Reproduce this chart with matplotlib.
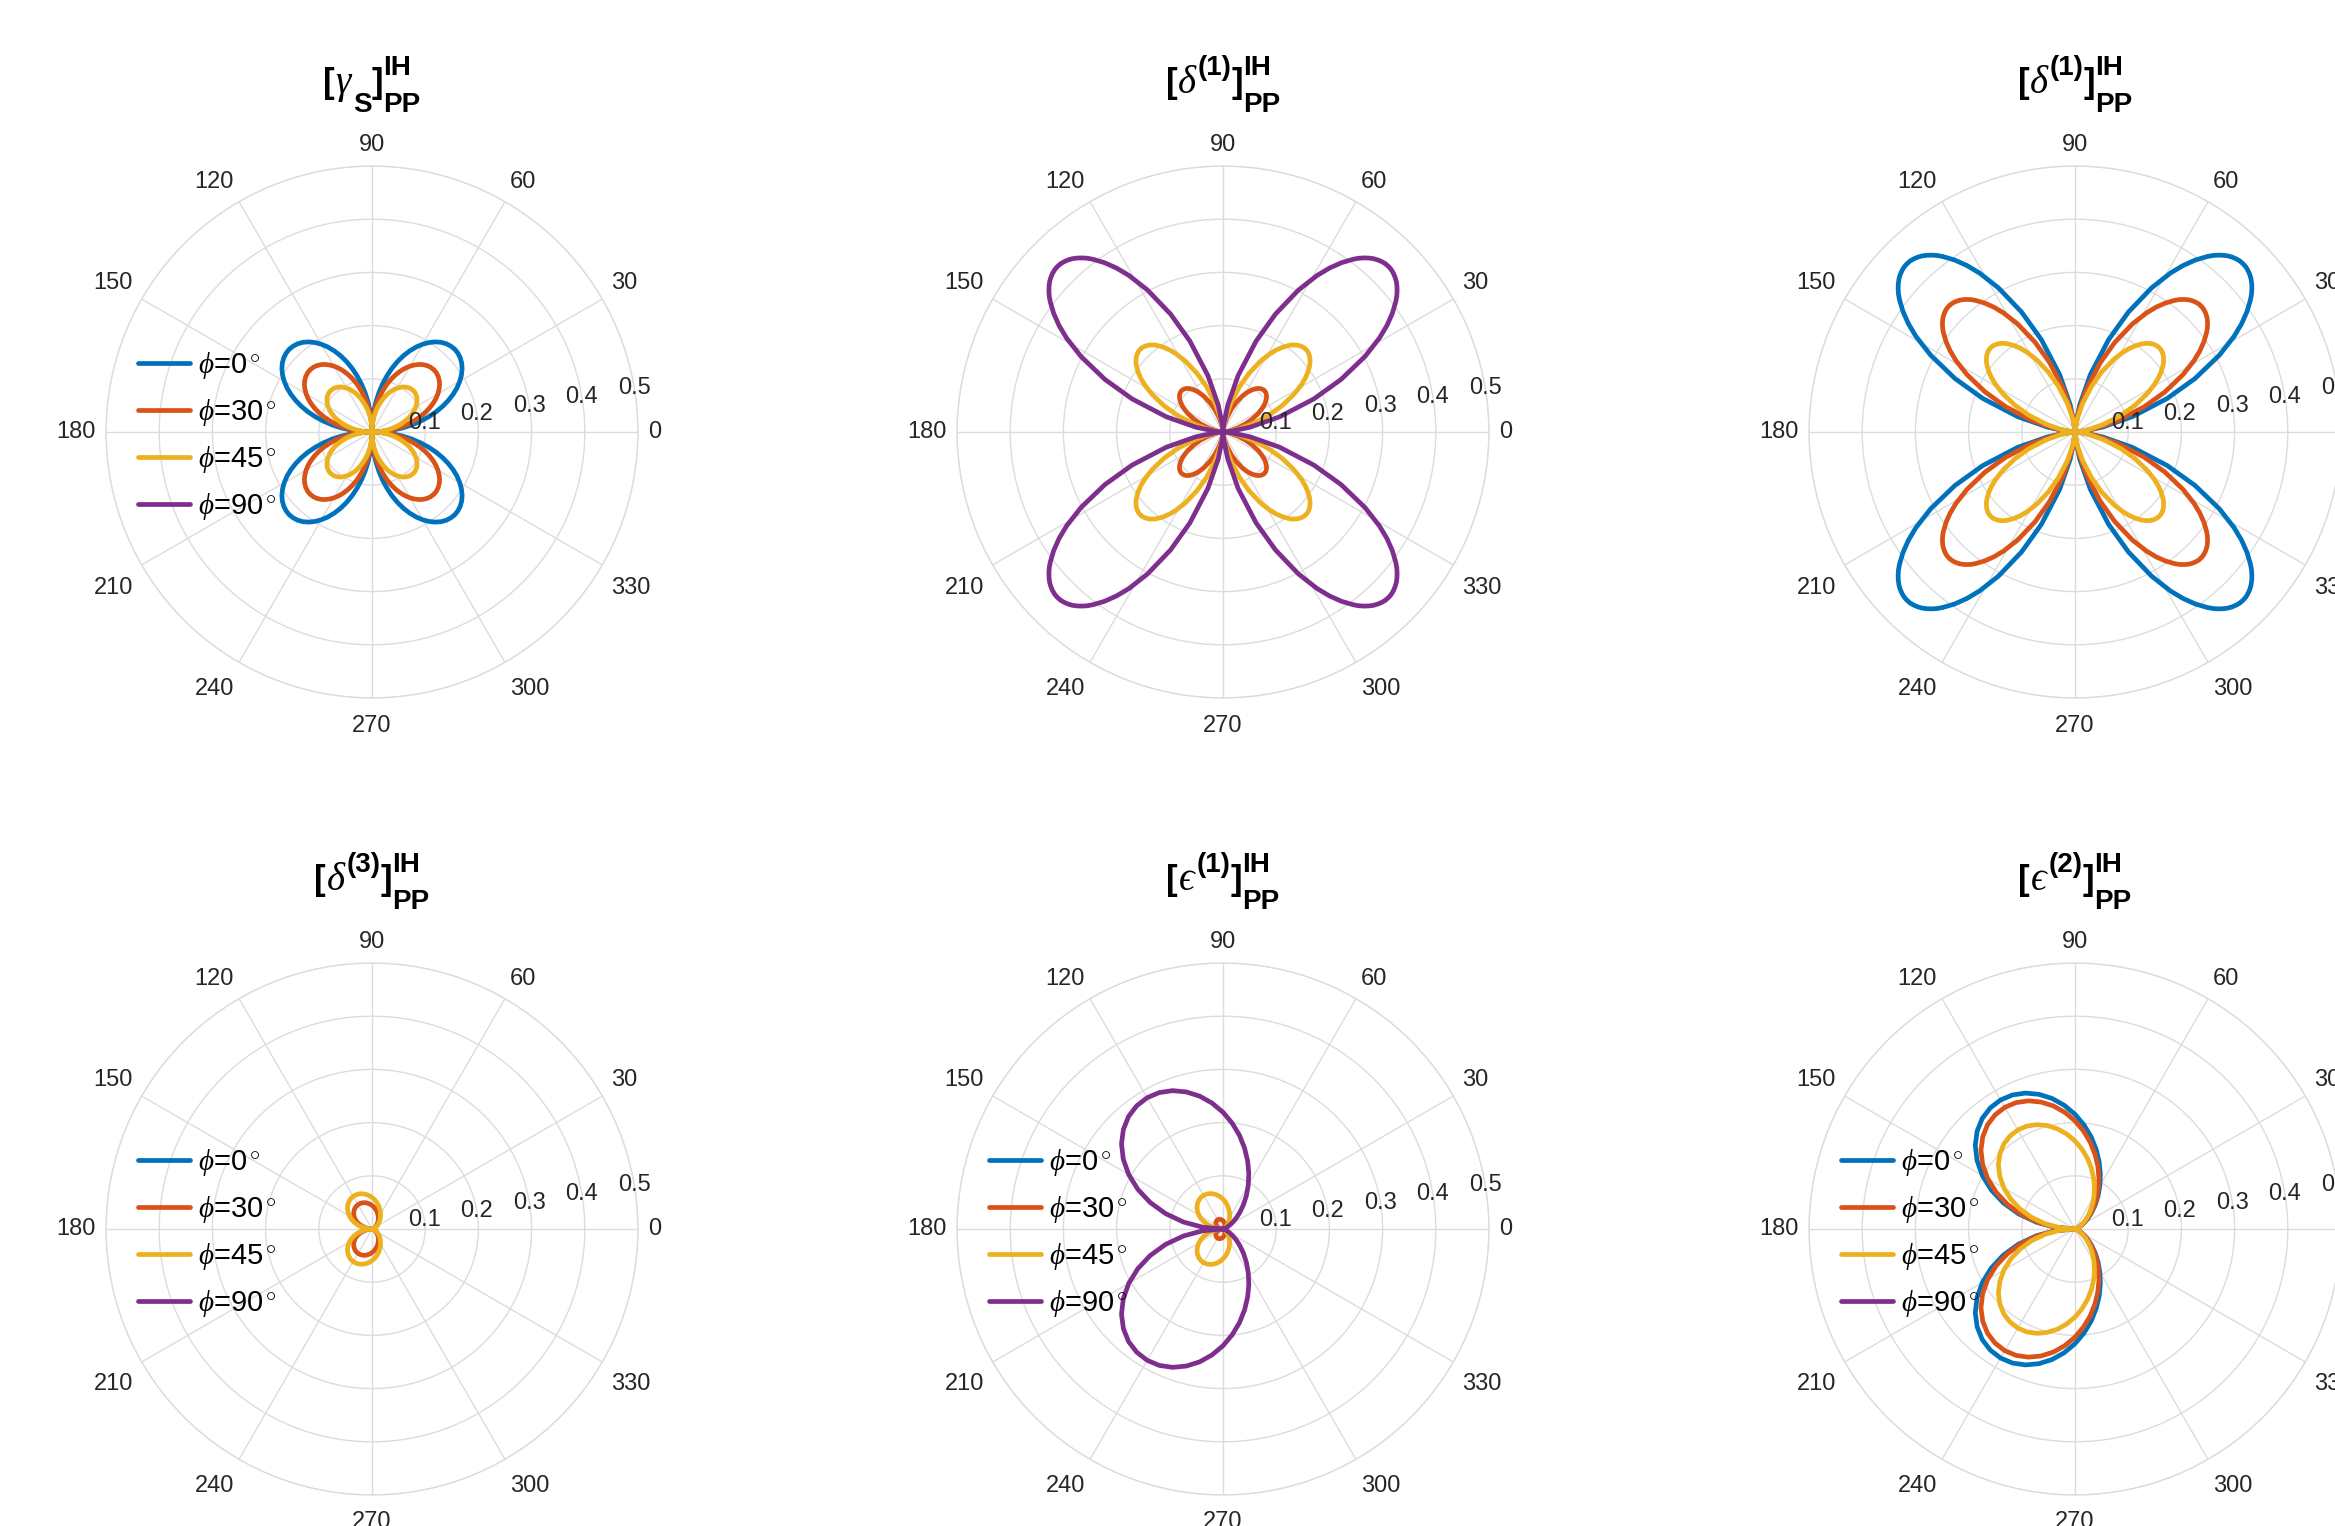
import numpy as np
import matplotlib.pyplot as plt
from matplotlib.transforms import ScaledTranslation

plt.rcParams['font.family'] = 'Liberation Sans'
plt.rcParams['mathtext.fontset'] = 'custom'
plt.rcParams['mathtext.rm'] = 'Liberation Sans'
plt.rcParams['mathtext.it'] = 'Liberation Serif:italic'
plt.rcParams['mathtext.bf'] = 'Liberation Sans:bold'

# incidence angle phi of each curve
phi_labels = [r'$\phi$=0$^\circ$', r'$\phi$=30$^\circ$',
              r'$\phi$=45$^\circ$', r'$\phi$=90$^\circ$']
colors = ['#0072BD', '#D95319', '#EDB120', '#7E2F8E']

# lobe shapes, normalised to 1 at the lobe tip
# four-fold patterns: half a lobe, 0..45 deg (mirrored about 45 deg)
theta_a = np.arange(0, 45.1, 2.5)
lobe_gamma = [0, 0.087, 0.174, 0.259, 0.342, 0.423, 0.500, 0.574, 0.643,
              0.707, 0.766, 0.819, 0.866, 0.906, 0.940, 0.966, 0.985,
              0.996, 1.000]
theta_b = np.array([0, 5, 10, 15, 20, 24, 28, 31, 33, 35, 37, 38, 39, 40,
                    41, 42, 43, 44, 45])
lobe_delta1 = [0, 0.030, 0.117, 0.250, 0.413, 0.552, 0.687, 0.780, 0.835,
               0.883, 0.924, 0.942, 0.957, 0.970, 0.981, 0.989, 0.995,
               0.999, 1.000]
# two-fold patterns: upper half plane, 0..180 deg in 5 deg steps
theta_h = np.arange(0, 181, 5)
lobe_delta3 = [0, 0.019, 0.038, 0.060, 0.085, 0.113, 0.147, 0.185, 0.229,
               0.278, 0.332, 0.391, 0.453, 0.518, 0.585, 0.652, 0.717,
               0.780, 0.837, 0.889, 0.932, 0.966, 0.989, 0.999, 0.997,
               0.981, 0.951, 0.906, 0.847, 0.775, 0.691, 0.594, 0.488,
               0.374, 0.253, 0.128, 0]
lobe_eps = [0, 0.000, 0.002, 0.007, 0.016, 0.031, 0.052, 0.080, 0.116,
            0.159, 0.211, 0.269, 0.333, 0.403, 0.476, 0.551, 0.627, 0.700,
            0.770, 0.834, 0.890, 0.936, 0.971, 0.993, 1.000, 0.992, 0.969,
            0.929, 0.874, 0.803, 0.718, 0.620, 0.511, 0.392, 0.265, 0.134,
            0]

# lobe tip radius for phi = 0, 30, 45, 90
peak_gamma = [0.22, 0.165, 0.11, 0.0]
peak_delta1_a = [0.0, 0.11, 0.22, 0.44]
peak_delta1_b = [0.447, 0.335, 0.224, 0.0]
peak_delta3 = [0.0, 0.053, 0.071, 0.0]
peak_eps1 = [0.0, 0.02, 0.073, 0.285]
peak_eps2 = [0.28, 0.264, 0.215, 0.0]

# titles as runs of glyphs: runs in one group share the same x
ih_pp = [('IH', 'sup'), ('PP', 'sub')]
titles = [
    [[('[', 'main')], [(r'$\gamma$', 'greek')], [('S', 'sub')],
     [(']', 'main')], ih_pp],
    [[('[', 'main')], [(r'$\delta$', 'greek')], [('(1)', 'sup')],
     [(']', 'main')], ih_pp],
    [[('[', 'main')], [(r'$\delta$', 'greek')], [('(1)', 'sup')],
     [(']', 'main')], ih_pp],
    [[('[', 'main')], [(r'$\delta$', 'greek')], [('(3)', 'sup')],
     [(']', 'main')], ih_pp],
    [[('[', 'main')], [('$\u03f5$', 'greek')], [('(1)', 'sup')],
     [(']', 'main')], ih_pp],
    [[('[', 'main')], [('$\u03f5$', 'greek')], [('(2)', 'sup')],
     [(']', 'main')], ih_pp],
]
run_style = {
    'main': (25, 'bold', 0),
    'greek': (28, 'normal', 0),
    'sup': (20, 'bold', 18),
    'sub': (20, 'bold', -19),
}

panels = [
    ('four', theta_a, lobe_gamma, peak_gamma, True),
    ('four', theta_b, lobe_delta1, peak_delta1_a, False),
    ('four', theta_b, lobe_delta1, peak_delta1_b, False),
    ('two', theta_h, lobe_delta3, peak_delta3, True),
    ('two', theta_h, lobe_eps, peak_eps1, True),
    ('two', theta_h, lobe_eps, peak_eps2, True),
]

r_ticks = [0.1, 0.2, 0.3, 0.4, 0.5]
theta_ticks = list(range(0, 360, 30))


def full_turn(kind, t, lobe):
    t = np.asarray(t, dtype=float)
    r = np.asarray(lobe, dtype=float)
    if kind == 'four':
        # half lobe -> quadrant -> full turn
        t = np.concatenate([t, 90 - t[::-1][1:]])
        r = np.concatenate([r, r[::-1][1:]])
        t = np.concatenate([t, 180 - t[::-1][1:], 180 + t[1:],
                            360 - t[::-1][1:]])
        r = np.concatenate([r, r[::-1][1:], r[1:], r[::-1][1:]])
    else:
        t = np.concatenate([t, 360 - t[::-1][1:]])
        r = np.concatenate([r, r[::-1][1:]])
    return np.radians(t), r


def draw_title(fig, groups, xc, yb):
    # lay the runs out left to right in pixels, then centre on xc
    rend = fig.canvas.get_renderer()
    placed = []
    x = 0.0
    for grp in groups:
        wmax = 0.0
        for s, role in grp:
            size, weight, dy = run_style[role]
            t = fig.text(0, 0, s, fontsize=size, fontweight=weight,
                         transform=None, ha='left', va='baseline')
            wmax = max(wmax, t.get_window_extent(rend).width)
            placed.append((t, x, dy))
        x += wmax
    for t, xo, dy in placed:
        t.set_position((xc - x / 2 + xo, yb + dy))


W, H = 2335, 1526
R = 266
cx = [372, 1223, 2075]
cy = [432, 1229]
grid_c = '#dcdcdc'
text_c = '#262626'

fig = plt.figure(figsize=(W / 100, H / 100), dpi=100)
below = ScaledTranslation(0, -0.065, fig.dpi_scale_trans)

for i, (kind, th, lobe, peaks, show_leg) in enumerate(panels):
    x0, y0 = cx[i % 3], cy[i // 3]
    ax = fig.add_axes([(x0 - R) / W, (H - y0 - R) / H, 2 * R / W, 2 * R / H],
                      projection='polar')
    t, r = full_turn(kind, th, lobe)
    for p, c, lab in zip(peaks, colors, phi_labels):
        ax.plot(t, p * r, color=c, lw=3.4, label=lab,
                solid_joinstyle='round', solid_capstyle='round')

    ax.set_ylim(0, 0.5)
    ax.set_yticks(r_ticks)
    ax.set_yticklabels([])
    ax.set_xticks(np.radians(theta_ticks))
    ax.set_xticklabels([])
    ax.tick_params(length=0)
    ax.grid(color=grid_c, lw=1.0)
    ax.spines['polar'].set_color(grid_c)
    ax.spines['polar'].set_linewidth(1.0)

    # angle labels just outside the rim
    for a in theta_ticks:
        ha = 'center' if a in (90, 270) else ('left' if (a < 90 or a > 270) else 'right')
        trans = ax.transData
        if a in (0, 180):
            va = 'center'
        elif a < 180:
            va = 'bottom'
        else:
            va = 'top'
            trans = ax.transData + below
        ax.text(np.radians(a), 0.5 * (R + 10) / R, str(a), ha=ha, va=va,
                fontsize=17, color=text_c, transform=trans)
    for rv in r_ticks:
        ax.text(np.radians(9.5), rv, f'{rv:g}', ha='center', va='center',
                fontsize=17, color=text_c)

    draw_title(fig, titles[i], x0, H - (y0 - R - 73))

    if show_leg:
        ax.legend(loc='upper left', bbox_to_anchor=(0.06, 0.654),
                  bbox_transform=ax.transAxes, frameon=False, fontsize=21,
                  handlelength=1.78, handletextpad=0.27, labelspacing=0.55,
                  borderpad=0, borderaxespad=0)

fig.savefig('out.png', dpi=100, facecolor='white')
